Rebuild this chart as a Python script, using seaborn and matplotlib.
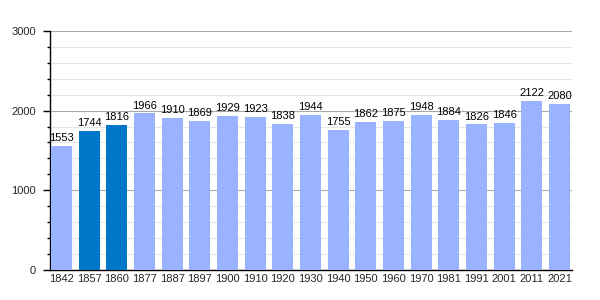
import matplotlib
matplotlib.use("Agg")
import matplotlib.pyplot as plt
from matplotlib.ticker import MultipleLocator, FixedLocator
import seaborn as sns
import pandas as pd

years = ["1842", "1857", "1860", "1877", "1887", "1897", "1900", "1910", "1920", "1930",
         "1940", "1950", "1960", "1970", "1981", "1991", "2001", "2011", "2021"]
population = [1553, 1744, 1816, 1966, 1910, 1869, 1929, 1923, 1838, 1944,
              1755, 1862, 1875, 1948, 1884, 1826, 1846, 2122, 2080]
highlight = ["1857", "1860"]

sns.set_theme(style="white")
plt.rcParams["font.family"] = ["Liberation Sans", "DejaVu Sans"]

light = "#99b3ff"
dark = "#0077c8"
df = pd.DataFrame({"year": years, "pop": population})
palette = {y: (dark if y in highlight else light) for y in years}

fig = plt.figure(figsize=(6, 3), dpi=100)
ax = fig.add_axes([50/600, 0.1, 522/600, 0.797])
sns.barplot(data=df, x="year", y="pop", hue="year", palette=palette, legend=False,
            width=0.76, ax=ax, saturation=1, linewidth=0, zorder=3)

ax.set_ylim(0, 3000)
ax.set_xlim(-0.416, 18.45)
ax.yaxis.set_major_locator(MultipleLocator(1000))
ax.yaxis.set_minor_locator(FixedLocator([v for v in range(200, 3000, 200) if v % 1000]))
ax.grid(axis="y", which="major", color="#a8a8a8", linewidth=0.8, zorder=0)
ax.grid(axis="y", which="minor", color="#e6e6e6", linewidth=0.8, zorder=0)
ax.set_axisbelow(True)
for s in ["top", "right"]:
    ax.spines[s].set_visible(False)
for s in ["left", "bottom"]:
    ax.spines[s].set_color("black")
    ax.spines[s].set_linewidth(1)
ax.tick_params(axis="y", which="major", length=5, width=1, color="black", labelsize=8, pad=5, left=True)
ax.tick_params(axis="y", which="minor", length=2.5, width=1, color="black", left=True)
ax.tick_params(axis="x", length=0, labelsize=8, pad=3)
ax.set_xlabel("")
ax.set_ylabel("")

for i, v in enumerate(population):
    ax.text(i, v + 35, str(v), ha="center", va="bottom", fontsize=8, color="black", zorder=5)

fig.savefig("out.png", dpi=100)
